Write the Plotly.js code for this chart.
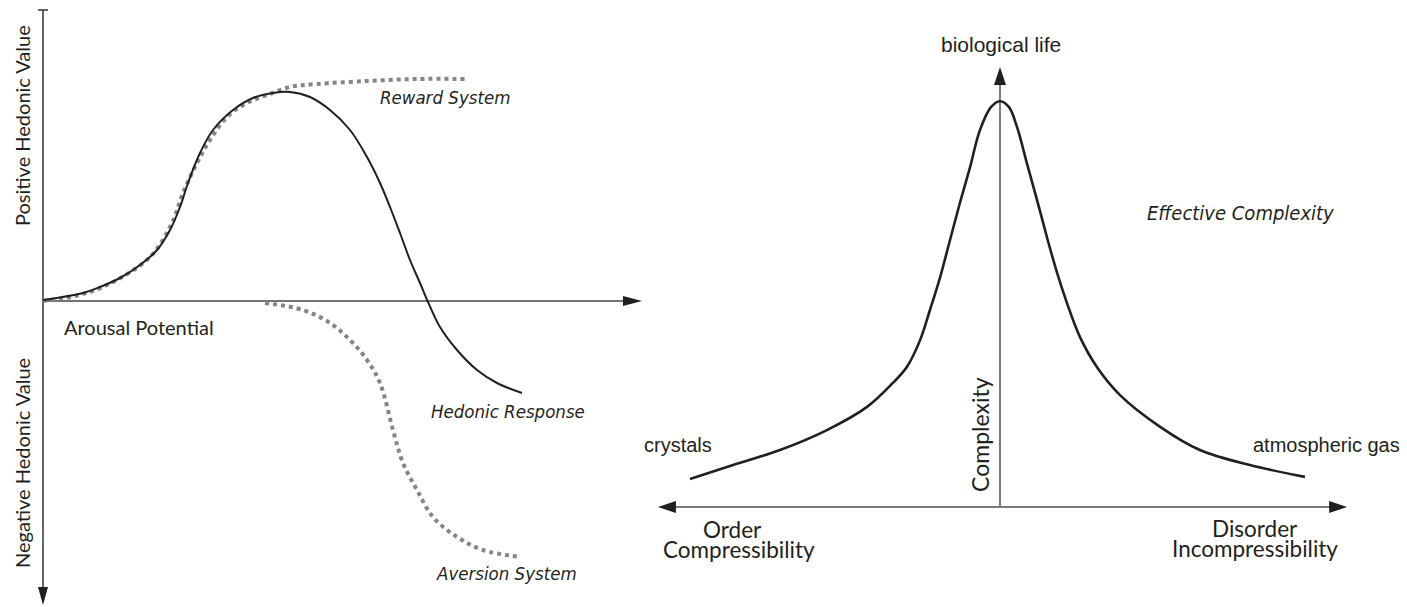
<!DOCTYPE html>
<html lang="en">
<head>
  <meta charset="UTF-8">
  <title>Hedonic Response and Effective Complexity</title>
  <script src="https://cdn.plot.ly/plotly-3.0.1.min.js"></script>
  <style>
    body { margin: 0; background: #fff; }
    #chart { width: 1407px; height: 607px; }
  </style>
</head>
<body>
  <div id="chart"></div>

  <script>
    // Left panel: arousal potential (x) vs hedonic value (y)
    const hedonicX = [0, 0.8, 1.14, 1.54, 1.94, 2.28, 2.54, 2.74, 2.9, 3.14, 3.4, 3.8, 4.2, 4.6, 4.94, 5.34, 5.74, 6.14, 6.48, 6.74, 6.94, 7.14, 7.34, 7.54, 7.7, 7.94, 8.28, 8.68, 9.08, 9.58];
    const hedonicY = [0.01, 0.08, 0.14, 0.23, 0.36, 0.51, 0.71, 0.94, 1.18, 1.48, 1.71, 1.91, 2.03, 2.08, 2.09, 2.04, 1.91, 1.71, 1.44, 1.18, 0.94, 0.68, 0.41, 0.18, -0.01, -0.26, -0.49, -0.69, -0.82, -0.92];

    const rewardX = [0, 0.64, 1.28, 2.14, 2.58, 2.8, 3.08, 3.34, 3.68, 4.08, 4.48, 4.94, 5.48, 6.48, 7.48, 8.48];
    const rewardY = [0, 0.05, 0.16, 0.44, 0.78, 1.08, 1.38, 1.61, 1.84, 1.98, 2.06, 2.14, 2.17, 2.2, 2.22, 2.22];

    const aversionX = [4.44, 5.2, 5.74, 6.14, 6.48, 6.74, 7.0, 7.2, 7.48, 7.8, 8.28, 8.8, 9.54];
    const aversionY = [-0.02, -0.09, -0.22, -0.39, -0.59, -0.82, -1.29, -1.62, -1.89, -2.16, -2.36, -2.49, -2.56];

    // Right panel: order/disorder (x) vs complexity (y)
    const complexityX = [-0.912, -0.785, -0.647, -0.509, -0.391, -0.315, -0.274, -0.235, -0.206, -0.176, -0.147, -0.118, -0.088, -0.059, -0.026, 0, 0.026, 0.05, 0.079, 0.109, 0.138, 0.168, 0.197, 0.235, 0.285, 0.353, 0.471, 0.588, 0.735, 0.897];
    const complexityY = [0.069, 0.103, 0.14, 0.189, 0.246, 0.305, 0.344, 0.41, 0.484, 0.565, 0.656, 0.747, 0.835, 0.926, 0.983, 0.997, 0.983, 0.934, 0.845, 0.754, 0.663, 0.575, 0.501, 0.418, 0.344, 0.275, 0.197, 0.14, 0.103, 0.074];

    const gill = 'Lato, "Open Sans", sans-serif';
    const helv = '"Liberation Sans", Arial, sans-serif';
    const hand = '"DejaVu Sans Condensed", "DejaVu Sans", sans-serif';
    const ink = '#231f20';

    const traces = [
      { x: rewardX, y: rewardY, xaxis: 'x', yaxis: 'y', mode: 'lines',
        line: { color: '#858585', width: 4, dash: 'dot', shape: 'spline' } },
      { x: aversionX, y: aversionY, xaxis: 'x', yaxis: 'y', mode: 'lines',
        line: { color: '#858585', width: 4, dash: 'dot', shape: 'spline' } },
      { x: hedonicX, y: hedonicY, xaxis: 'x', yaxis: 'y', mode: 'lines',
        line: { color: ink, width: 2, shape: 'spline' } },
      { x: complexityX, y: complexityY, xaxis: 'x2', yaxis: 'y2', mode: 'lines',
        line: { color: ink, width: 2.6, shape: 'spline' } }
    ];

    function arrow(xref, yref, x, y, path, color) {
      return { type: 'path', xref: xref, yref: yref, xsizemode: 'pixel', ysizemode: 'pixel',
        xanchor: x, yanchor: y, path: path, fillcolor: color, line: { width: 0 } };
    }
    function seg(xref, yref, x0, y0, x1, y1, color, w) {
      return { type: 'line', xref: xref, yref: yref, x0: x0, y0: y0, x1: x1, y1: y1,
        line: { color: color, width: w }, layer: 'below' };
    }

    const shapes = [
      // left axes
      seg('x', 'y', 0, 2.91, 0, -2.88, '#333', 1.5),
      seg('x', 'y', 0, 0, 11.7, 0, '#444', 1.5),
      { type: 'line', xref: 'x', yref: 'y', xsizemode: 'pixel', xanchor: 0, x0: -5, x1: 5, y0: 2.91, y1: 2.91,
        line: { color: '#333', width: 1.5 } },
      arrow('x', 'y', 0, -3.04, 'M0,0 L-5,18 L5,18 Z', ink),
      arrow('x', 'y', 11.98, 0, 'M0,0 L-19,5 L-19,-5 Z', ink),
      // right axes
      seg('x2', 'y2', 0, 0, 0, 1.04, '#7a7a7a', 2),
      seg('x2', 'y2', -0.98, 0, 0.99, 0, '#7a7a7a', 2),
      arrow('x2', 'y2', 0, 1.081, 'M0,0 L-6,-18 L6,-18 Z', ink),
      arrow('x2', 'y2', -1.006, 0, 'M0,0 L18,6 L18,-6 Z', ink),
      arrow('x2', 'y2', 1.021, 0, 'M0,0 L-18,6 L-18,-6 Z', ink)
    ];

    function note(xref, yref, x, y, text, font, extra) {
      return Object.assign({ xref: xref, yref: yref, x: x, y: y, text: text, showarrow: false,
        font: font }, extra || {});
    }
    const gillFont = { family: gill, size: 20, color: ink };
    const handFont = { family: hand, size: 18.5, color: ink };
    const handBig = { family: hand, size: 20, color: ink };
    const helvFont = { family: helv, size: 20, color: ink };
    const bigGill = { family: gill, size: 22.5, color: ink };

    const annotations = [
      note('x', 'y', 8.04, 2.04, '<i>Reward System</i>', handFont),
      note('x', 'y', 9.3, -1.1, '<i>Hedonic Response</i>', handFont),
      note('x', 'y', 9.26, -2.72, '<i>Aversion System</i>', handFont),
      note('x', 'y', 0.38, -0.26, 'Arousal Potential', gillFont, { xanchor: 'left' }),
      note('x', 'y', -0.42, 1.75, 'Positive Hedonic Value', gillFont, { textangle: -90 }),
      note('x', 'y', -0.42, -1.62, 'Negative Hedonic Value', gillFont, { textangle: -90 }),

      note('x2', 'y2', 0.003, 1.1376, 'biological life', { family: helv, size: 21, color: ink }),
      note('x2', 'y2', -0.947, 0.152, 'crystals', helvFont),
      note('x2', 'y2', 1.182, 0.152, 'atmospheric gas', helvFont, { xanchor: 'right' }),
      note('x2', 'y2', 0.706, 0.722, '<i>Effective Complexity</i>', handBig),
      note('x2', 'y2', -0.0588, 0.177, 'Complexity', Object.assign({}, bigGill, { size: 23 }), { textangle: -90 }),
      note('x2', 'y2', -0.788, -0.056, 'Order', bigGill),
      note('x2', 'y2', -0.768, -0.105, 'Compressibility', bigGill),
      note('x2', 'y2', 0.75, -0.052, 'Disorder', bigGill),
      note('x2', 'y2', 0.75, -0.101, 'Incompressibility', bigGill)
    ];

    const hidden = { visible: false, fixedrange: true };
    const layout = {
      width: 1407, height: 607,
      margin: { l: 0, r: 0, t: 0, b: 0 },
      paper_bgcolor: '#fff', plot_bgcolor: 'rgba(0,0,0,0)',
      showlegend: false,
      xaxis: Object.assign({ domain: [0, 0.465], range: [-0.86, 12.225] }, hidden),
      yaxis: Object.assign({ domain: [0, 1], range: [-3.06, 3.01] }, hidden),
      xaxis2: Object.assign({ domain: [0.465, 1], range: [-1.0169, 1.1971], anchor: 'y2' }, hidden),
      yaxis2: Object.assign({ domain: [0, 1], range: [-0.2457, 1.2457], anchor: 'x2' }, hidden),
      shapes: shapes,
      annotations: annotations
    };

    Plotly.newPlot('chart', traces, layout, { staticPlot: true, displayModeBar: false });
  </script>
</body>
</html>
